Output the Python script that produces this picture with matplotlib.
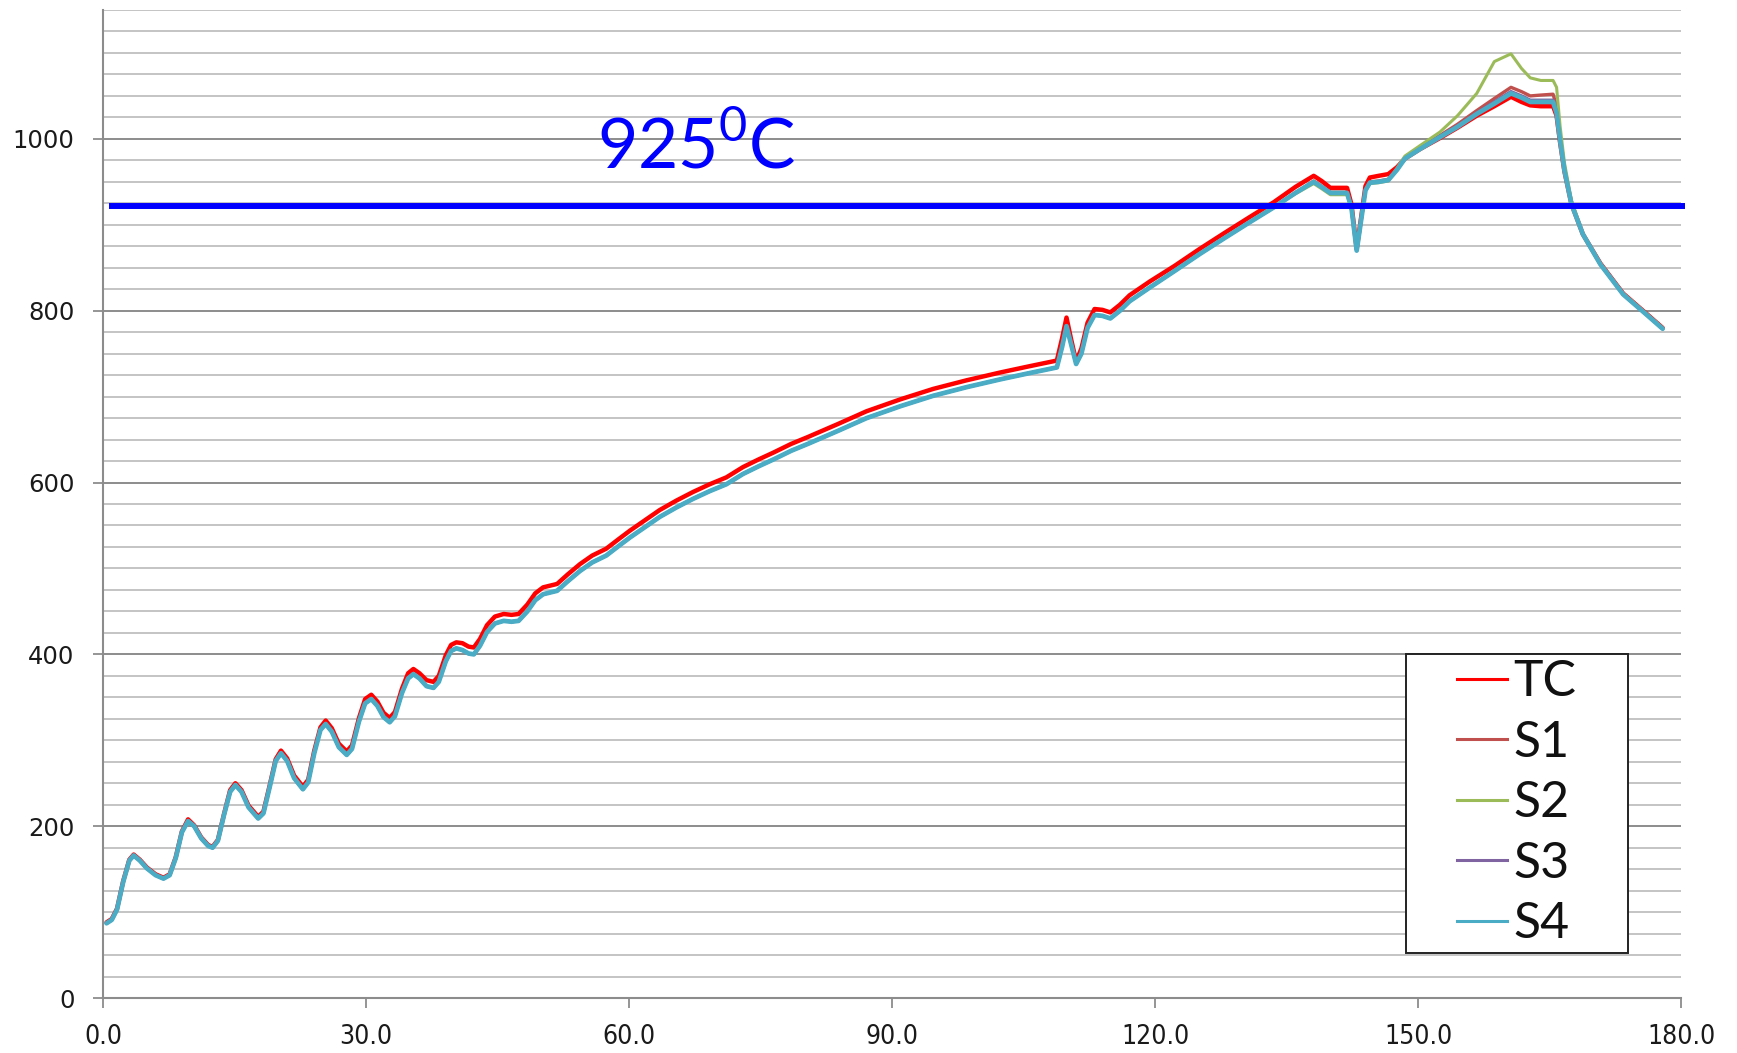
import matplotlib
matplotlib.use("Agg")
import matplotlib.pyplot as plt
from matplotlib.ticker import MultipleLocator
from matplotlib.lines import Line2D
from matplotlib.patches import Rectangle

# ---------------- data ----------------
time_min = [
    0.4, 1.0, 1.6, 2.3, 3.0, 3.5, 4.2, 5.0, 6.0, 6.9,
    7.6, 8.3, 9.0, 9.7, 10.4, 11.2, 12.0, 12.5, 13.1, 13.8,
    14.5, 15.1, 15.8, 16.6, 17.7, 18.3, 19.0, 19.7, 20.3, 21.0,
    21.8, 22.8, 23.4, 24.1, 24.8, 25.4, 26.1, 26.9, 27.8, 28.4,
    29.2, 29.9, 30.6, 31.3, 32.0, 32.7, 33.3, 34.1, 34.8, 35.4,
    36.1, 36.9, 37.7, 38.3, 39.1, 39.7, 40.3, 41.0, 41.7, 42.3,
    43.0, 43.8, 44.7, 45.7, 46.6, 47.4, 48.4, 49.3, 50.2, 51.8,
    53.0, 54.4, 55.8, 57.4, 58.8, 60.1, 61.8, 63.5, 65.4, 67.3,
    69.2, 71.1, 73.0, 74.8, 76.5, 78.5, 80.4, 83.8, 87.1, 91.0,
    94.7, 98.5, 102.3, 105.5, 108.8, 109.4, 109.9, 110.4, 111.0, 111.6,
    112.3, 113.1, 114.0, 114.9, 116.0, 117.1, 119.4, 122.2, 125.1, 128.0,
    130.8, 133.5, 136.0, 138.1, 139.0, 140.0, 141.9, 142.4, 143.0, 143.5,
    144.0, 144.5, 145.5, 146.6, 147.6, 148.5, 150.2, 152.5, 154.5, 156.7,
    158.7, 160.6, 161.8, 162.8, 164.0, 165.4, 165.8, 166.2, 166.7, 167.5,
    168.8, 170.8, 173.4, 176.0, 177.9,
]

tc = [
    88, 92, 104, 136, 161, 167, 161, 152, 144, 140,
    144, 164, 194, 208, 201, 187, 178, 176, 184, 214,
    242, 250, 242, 224, 211, 217, 247, 278, 288, 279,
    259, 246, 254, 288, 315, 323, 314, 296, 287, 294,
    326, 348, 353, 345, 332, 326, 333, 360, 378, 383,
    378, 370, 368, 375, 399, 411, 414, 413, 409, 408,
    418, 434, 444, 447, 446, 447, 458, 471, 478, 482,
    493, 505, 515, 523, 534, 544, 556, 568, 579, 589,
    598, 606, 618, 627, 635, 645, 653, 668, 683, 697,
    709, 719, 728, 735, 742, 768, 792, 768, 741, 756,
    786, 802, 801, 798, 807, 818, 834, 852, 872, 891,
    909, 926, 944, 957, 951, 943, 943, 924, 872, 908,
    945, 955, 957, 959, 967, 977, 988, 1001, 1013, 1027,
    1038, 1049, 1043, 1039, 1038, 1038, 1027, 996, 962, 924,
    889, 855, 820, 797, 780,
]

s1 = [
    87, 91, 103, 135, 160, 166, 160, 151, 143, 139,
    143, 163, 193, 206, 200, 186, 177, 175, 183, 213,
    240, 248, 240, 222, 209, 215, 245, 276, 285, 276,
    256, 243, 251, 285, 312, 319, 310, 292, 283, 290,
    322, 343, 348, 340, 327, 321, 328, 355, 372, 377,
    372, 363, 361, 368, 392, 404, 407, 405, 401, 400,
    410, 426, 436, 439, 438, 439, 450, 463, 470, 474,
    485, 497, 507, 515, 526, 536, 548, 560, 571, 581,
    590, 598, 610, 619, 627, 637, 645, 660, 675, 689,
    701, 711, 720, 727, 734, 758, 782, 762, 738, 750,
    780, 795, 794, 791, 800, 811, 827, 846, 866, 885,
    903, 920, 937, 951, 945, 938, 938, 921, 870, 905,
    940, 950, 951, 953, 964, 977, 989, 1004, 1017, 1033,
    1047, 1060, 1055, 1050, 1051, 1052, 1038, 1000, 964, 925,
    889, 854, 819, 796, 779,
]

s2 = [
    87, 91, 103, 135, 160, 166, 160, 151, 143, 139,
    143, 163, 193, 206, 200, 186, 177, 175, 183, 213,
    240, 248, 240, 222, 209, 215, 245, 276, 285, 276,
    256, 243, 251, 285, 312, 319, 310, 292, 283, 290,
    322, 343, 348, 340, 327, 321, 328, 355, 372, 377,
    372, 363, 361, 368, 392, 404, 407, 405, 401, 400,
    410, 426, 436, 439, 438, 439, 450, 463, 470, 474,
    485, 497, 507, 515, 526, 536, 548, 560, 571, 581,
    590, 598, 610, 619, 627, 637, 645, 660, 675, 689,
    701, 711, 720, 727, 734, 758, 782, 762, 738, 750,
    780, 795, 794, 791, 800, 811, 827, 846, 866, 885,
    903, 920, 936, 948, 942, 935, 935, 918, 870, 905,
    940, 948, 949, 951, 966, 980, 992, 1008, 1027, 1053,
    1090, 1099, 1082, 1071, 1068, 1068, 1060, 1015, 972, 928,
    890, 855, 820, 797, 780,
]

s3 = [
    87, 91, 103, 135, 160, 166, 160, 151, 143, 139,
    143, 163, 193, 206, 200, 186, 177, 175, 183, 213,
    240, 248, 240, 222, 209, 215, 245, 276, 285, 276,
    256, 243, 251, 285, 312, 319, 310, 292, 283, 290,
    322, 343, 348, 340, 327, 321, 328, 355, 372, 377,
    372, 363, 361, 368, 392, 404, 407, 405, 401, 400,
    410, 426, 436, 439, 438, 439, 450, 463, 470, 474,
    485, 497, 507, 515, 526, 536, 548, 560, 571, 581,
    590, 598, 610, 619, 627, 637, 645, 660, 675, 689,
    701, 711, 720, 727, 734, 758, 782, 762, 738, 750,
    780, 795, 794, 791, 800, 811, 827, 846, 866, 885,
    903, 920, 937, 950, 944, 937, 937, 920, 870, 905,
    940, 949, 950, 952, 964, 977, 988, 1003, 1015, 1030,
    1043, 1055, 1050, 1045, 1045, 1045, 1031, 998, 963, 924,
    889, 854, 819, 796, 779,
]

s4 = [
    87, 91, 103, 135, 160, 166, 160, 151, 143, 139,
    143, 163, 193, 206, 200, 186, 177, 175, 183, 213,
    240, 248, 240, 222, 209, 215, 245, 276, 285, 276,
    256, 243, 251, 285, 312, 319, 310, 292, 283, 290,
    322, 343, 348, 340, 327, 321, 328, 355, 372, 377,
    372, 363, 361, 368, 392, 404, 407, 405, 401, 400,
    410, 426, 436, 439, 438, 439, 450, 463, 470, 474,
    485, 497, 507, 515, 526, 536, 548, 560, 571, 581,
    590, 598, 610, 619, 627, 637, 645, 660, 675, 689,
    701, 711, 720, 727, 734, 758, 782, 762, 738, 750,
    780, 795, 794, 791, 800, 811, 827, 846, 866, 885,
    903, 920, 937, 950, 944, 937, 937, 920, 870, 905,
    940, 949, 950, 952, 964, 977, 988, 1002, 1014, 1029,
    1041, 1053, 1048, 1043, 1043, 1043, 1030, 998, 963, 924,
    889, 854, 819, 796, 779,
]

series_names = ["TC", "S1", "S2", "S3", "S4"]
series_colors = ["#FF0000", "#C0504D", "#9BBB59", "#8064A2", "#4BACC6"]

threshold_value = 922
threshold_label = r"925$^{\mathregular{0}}$C"

x_ticks = [0, 30, 60, 90, 120, 150, 180]
x_tick_labels = ["0.0", "30.0", "60.0", "90.0", "120.0", "150.0", "180.0"]
y_ticks = [0, 200, 400, 600, 800, 1000]
y_tick_labels = ["0", "200", "400", "600", "800", "1000"]

# ---------------- figure ----------------
fig = plt.figure(figsize=(17.37, 10.53), dpi=100)
ax = fig.add_axes([0.0593, 0.0522, 0.9085, 0.9383])

ax.set_xlim(0, 180)
ax.set_ylim(0, 1150)

grid_minor = "#C4C4C4"
grid_major = "#8C8C8C"
ax.yaxis.set_minor_locator(MultipleLocator(25))
ax.set_yticks(y_ticks)
ax.set_yticklabels(y_tick_labels)
ax.set_xticks(x_ticks)
ax.set_xticklabels(x_tick_labels)
ax.grid(which="minor", axis="y", color=grid_minor, lw=1.4, zorder=0)
ax.grid(which="major", axis="y", color=grid_major, lw=1.4, zorder=0)
ax.grid(False, axis="x")
ax.set_axisbelow(True)

for side in ["top", "right"]:
    ax.spines[side].set_visible(False)
for side in ["left", "bottom"]:
    ax.spines[side].set_color(grid_major)
    ax.spines[side].set_linewidth(1.5)

ax.tick_params(axis="y", which="major", direction="out", length=7.5, width=1.3,
               color=grid_major, pad=13, labelsize=17.5, labelcolor="#1a1a1a")
ax.tick_params(axis="y", which="minor", length=0)
ax.tick_params(axis="x", which="major", direction="out", length=7.5, width=1.3,
               color=grid_major, pad=11, labelsize=19, labelcolor="#1a1a1a")
for lab in ax.get_xticklabels():
    lab.set_fontstretch("condensed")

# data lines
widths = [3.2, 2.4, 2.2, 2.4, 3.4]
data = [tc, s1, s2, s3, s4]
for name, col, vals, lw in zip(series_names, series_colors, data, widths):
    ax.plot(time_min, vals, color=col, lw=lw, solid_joinstyle="round",
            solid_capstyle="round", zorder=3)

# threshold line
ax.plot([0.7, 180.4], [threshold_value, threshold_value], color="#0000FF",
        lw=4.3, solid_capstyle="butt", zorder=4, clip_on=False)
ax.text(56.3, 965, threshold_label, color="#0000FF", fontsize=50,
        family="Lato", ha="left", va="baseline", zorder=5)

# legend
handles = [Line2D([0], [0], color=c, lw=2.2) for c in series_colors]
leg = ax.legend(handles, series_names, loc="center", bbox_to_anchor=(0.896, 0.197),
                frameon=False, prop={"family": "Lato", "size": 36},
                handlelength=1.0, handletextpad=0.12, labelspacing=0.29,
                borderpad=0.0)
for t in leg.get_texts():
    t.set_color("#111111")
box = Rectangle((0.8257, 0.0455), 0.9664 - 0.8257, 0.348 - 0.0455,
                transform=ax.transAxes, facecolor="white", edgecolor="#222222",
                lw=1.4, zorder=6)
ax.add_patch(box)
leg.set_zorder(7)

fig.savefig("out.png", dpi=100)
